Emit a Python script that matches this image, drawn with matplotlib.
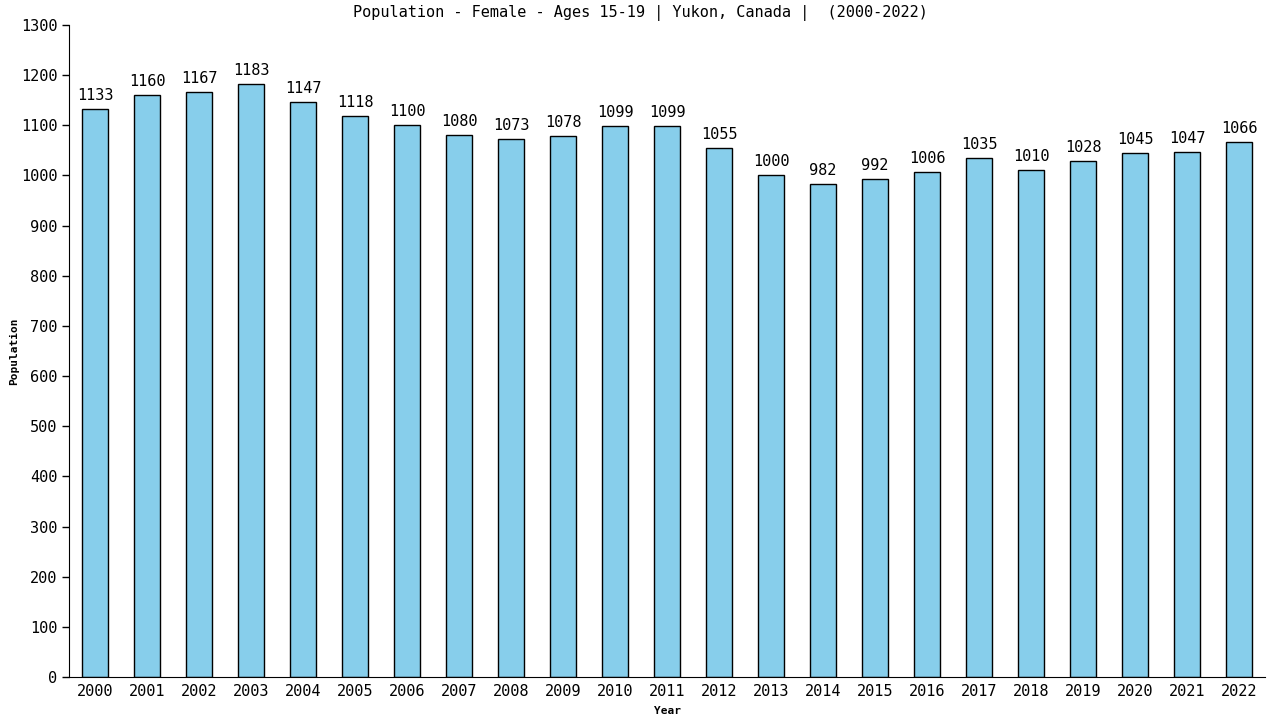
import matplotlib
matplotlib.use("Agg")
import matplotlib.pyplot as plt

years = [str(y) for y in range(2000, 2023)]
population = [1133, 1160, 1167, 1183, 1147, 1118, 1100, 1080, 1073, 1078, 1099, 1099,
              1055, 1000, 982, 992, 1006, 1035, 1010, 1028, 1045, 1047, 1066]

plt.rcParams['font.family'] = ['DejaVu Sans Mono']

fig = plt.figure(figsize=(12.8, 7.2), dpi=100)
ax = fig.add_axes([69 / 1280, 1 - 677 / 720, 1196 / 1280, 652 / 720])

x = range(len(years))
ax.bar(x, population, width=0.5, color='#87ceeb', edgecolor='black', linewidth=1)
for xi, v in zip(x, population):
    ax.text(xi, v + 12, str(v), ha='center', va='bottom', fontsize=11)

ax.set_xlim(-0.5, len(years) - 0.5)
ax.set_ylim(0, 1300)
ax.set_yticks(range(0, 1301, 100))
ax.set_xticks(list(x))
ax.set_xticklabels(years)
ax.tick_params(axis='both', labelsize=11, length=5, width=1)
ax.tick_params(axis='x', length=0, pad=5)
ax.spines['top'].set_visible(False)
ax.spines['right'].set_visible(False)

fig.text(0.5, 1 - 13 / 720, 'Population - Female - Ages 15-19 | Yukon, Canada |  (2000-2022)',
         ha='center', va='center', fontsize=11)
ax.set_xlabel('Year', fontsize=8, fontweight='bold', labelpad=5)
ax.set_ylabel('Population', fontsize=8, fontweight='bold', labelpad=1)

fig.savefig('out.png', dpi=100)
